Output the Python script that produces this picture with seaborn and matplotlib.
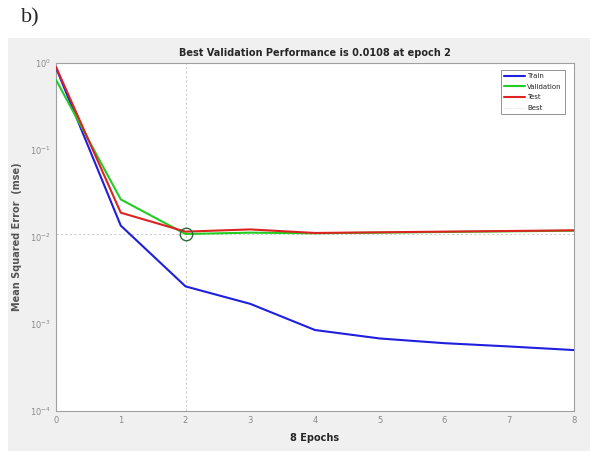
import numpy as np
import pandas as pd
import matplotlib
matplotlib.use("Agg")
import matplotlib.pyplot as plt
from matplotlib.patches import Rectangle
import seaborn as sns

epochs = [0, 1, 2, 3, 4, 5, 6, 7, 8]
train = [0.88, 0.0135, 0.0027, 0.0017, 0.00085, 0.00068, 0.0006, 0.00055, 0.0005]
validation = [0.64, 0.027, 0.0108, 0.0112, 0.0110, 0.0112, 0.0114, 0.0116, 0.0118]
test = [0.90, 0.019, 0.0115, 0.0122, 0.0111, 0.0113, 0.0115, 0.0117, 0.0119]
best_epoch = 2
best_value = 0.0108
x_ticks = [0, 1, 2, 3, 4, 5, 6, 7, 8]

df = pd.DataFrame({"epoch": epochs, "Train": train, "Validation": validation, "Test": test})
long = df.melt(id_vars="epoch", var_name="set", value_name="mse")

sns.set_style("white")
fig = plt.figure(figsize=(5.92, 4.53), dpi=100)
fig.patches.append(Rectangle((0.014, 0.005), 0.983, 0.912, transform=fig.transFigure,
                             facecolor="#f0f0f0", edgecolor="none", zorder=-10))
fig.text(0.035, 0.94, "b)", fontsize=16, family="Liberation Serif", va="bottom")

ax = fig.add_axes([0.0946, 0.093, 0.875, 0.768])
ax.set_facecolor("white")

ax.axhline(best_value, color="#cfcfcf", lw=0.8, ls=(0, (2, 2)), zorder=1)
ax.axvline(best_epoch, color="#cfcfcf", lw=0.8, ls=(0, (2, 2)), zorder=1)

sns.lineplot(data=long, x="epoch", y="mse", hue="set",
             palette={"Train": "#1f1fdd", "Validation": "#22cc22", "Test": "#dd2222"},
             linewidth=1.5, ax=ax, legend=False, zorder=3)
ax.plot([best_epoch], [best_value], marker="o", ms=9, mfc="none", mec="#2e6b3a", mew=1.0, zorder=4)

ax.set_yscale("log")
ax.set_ylim(1e-4, 1)
ax.set_xlim(0, 8)
ax.set_xticks(x_ticks)
ax.tick_params(axis="both", which="both", direction="in", labelsize=6, colors="#8a8a8a")
ax.tick_params(axis="both", which="major", length=4)
ax.tick_params(axis="y", which="minor", length=2)
for s in ax.spines.values():
    s.set_color("#a0a0a0")
    s.set_linewidth(0.8)

ax.set_title("Best Validation Performance is 0.0108 at epoch 2", fontsize=7, fontweight="bold", pad=5)
ax.set_xlabel("8 Epochs", fontsize=7, fontweight="bold", labelpad=6)
ax.set_ylabel("Mean Squared Error  (mse)", fontsize=7, fontweight="bold", color="#555555", labelpad=6)

handles = [plt.Line2D([], [], color="#1f1fdd", lw=1.5),
           plt.Line2D([], [], color="#22cc22", lw=1.5),
           plt.Line2D([], [], color="#dd2222", lw=1.5),
           plt.Line2D([], [], color="#d5d5d5", lw=0.8, ls=":")]
leg = ax.legend(handles, ["Train", "Validation", "Test", "Best"], loc="upper right",
                fontsize=5, frameon=True, fancybox=False, handlelength=3, handletextpad=0.3,
                borderpad=0.5, labelspacing=0.65, bbox_to_anchor=(0.99, 0.99))
leg.get_frame().set_edgecolor("#777777")
leg.get_frame().set_linewidth(0.7)

fig.savefig("out.png", dpi=100)
